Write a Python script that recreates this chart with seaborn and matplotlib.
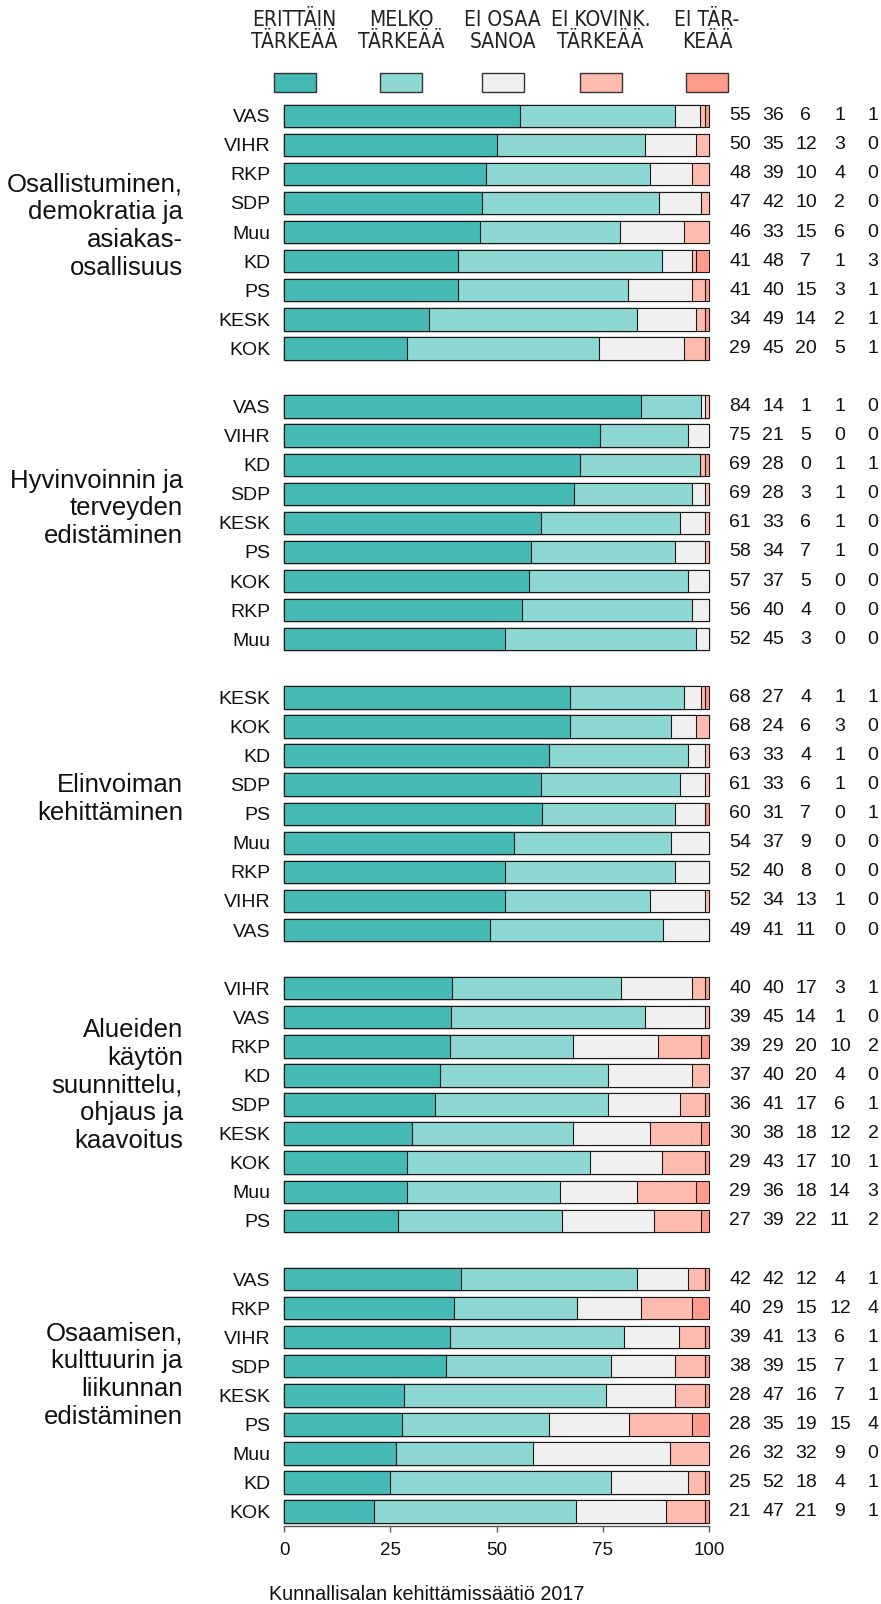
import numpy as np
import pandas as pd
import matplotlib
matplotlib.use('Agg')
import matplotlib.pyplot as plt
from matplotlib.patches import Rectangle
import seaborn as sns

# ---- data
topics = ['Osallistuminen,\ndemokratia ja\nasiakas-\nosallisuus',
          'Hyvinvoinnin ja\nterveyden\nedistäminen',
          'Elinvoiman\nkehittäminen',
          'Alueiden\nkäytön\nsuunnittelu,\nohjaus ja\nkaavoitus',
          'Osaamisen,\nkulttuurin ja\nliikunnan\nedistäminen']

parties = [['VAS', 'VIHR', 'RKP', 'SDP', 'Muu', 'KD', 'PS', 'KESK', 'KOK'],
           ['VAS', 'VIHR', 'KD', 'SDP', 'KESK', 'PS', 'KOK', 'RKP', 'Muu'],
           ['KESK', 'KOK', 'KD', 'SDP', 'PS', 'Muu', 'RKP', 'VIHR', 'VAS'],
           ['VIHR', 'VAS', 'RKP', 'KD', 'SDP', 'KESK', 'KOK', 'Muu', 'PS'],
           ['VAS', 'RKP', 'VIHR', 'SDP', 'KESK', 'PS', 'Muu', 'KD', 'KOK']]

erittain = [[55, 50, 48, 47, 46, 41, 41, 34, 29],
            [84, 75, 69, 69, 61, 58, 57, 56, 52],
            [68, 68, 63, 61, 60, 54, 52, 52, 49],
            [40, 39, 39, 37, 36, 30, 29, 29, 27],
            [42, 40, 39, 38, 28, 28, 26, 25, 21]]
melko = [[36, 35, 39, 42, 33, 48, 40, 49, 45],
         [14, 21, 28, 28, 33, 34, 37, 40, 45],
         [27, 24, 33, 33, 31, 37, 40, 34, 41],
         [40, 45, 29, 40, 41, 38, 43, 36, 39],
         [42, 29, 41, 39, 47, 35, 32, 52, 47]]
ei_osaa = [[6, 12, 10, 10, 15, 7, 15, 14, 20],
           [1, 5, 0, 3, 6, 7, 5, 4, 3],
           [4, 6, 4, 6, 7, 9, 8, 13, 11],
           [17, 14, 20, 20, 17, 18, 17, 18, 22],
           [12, 15, 13, 15, 16, 19, 32, 18, 21]]
ei_kovin = [[1, 3, 4, 2, 6, 1, 3, 2, 5],
            [1, 0, 1, 1, 1, 1, 0, 0, 0],
            [1, 3, 1, 1, 0, 0, 0, 1, 0],
            [3, 1, 10, 4, 6, 12, 10, 14, 11],
            [4, 12, 6, 7, 7, 15, 9, 4, 9]]
ei_tarkea = [[1, 0, 0, 0, 0, 3, 1, 1, 1],
             [0, 0, 1, 0, 0, 0, 0, 0, 0],
             [1, 0, 0, 0, 1, 0, 0, 0, 0],
             [1, 0, 2, 0, 1, 2, 1, 3, 2],
             [1, 4, 1, 1, 1, 4, 0, 1, 1]]

categories = ['ERITTÄIN\nTÄRKEÄÄ', 'MELKO\nTÄRKEÄÄ', 'EI OSAA\nSANOA',
              'EI KOVINK.\nTÄRKEÄÄ', 'EI TÄR-\nKEÄÄ']
colors = ['#45B9B4', '#8ED8D3', '#F0F0F0', '#FFBBAE', '#FF9B8B']

# ---- build table: one row per bar, 10 slots per topic (9 bars + gap)
rows = []
for g in range(len(topics)):
    for i, p in enumerate(parties[g]):
        rows.append({'pos': g * 10 + i, 'party': p,
                     'v0': erittain[g][i], 'v1': melko[g][i], 'v2': ei_osaa[g][i],
                     'v3': ei_kovin[g][i], 'v4': ei_tarkea[g][i]})
df = pd.DataFrame(rows)
vcols = ['v0', 'v1', 'v2', 'v3', 'v4']
tot = df[vcols].sum(axis=1)
for k in range(5):
    df['c%d' % k] = df[vcols[:k + 1]].sum(axis=1) / tot * 100

sns.set_theme(style='white')
plt.rcParams['font.family'] = ['Liberation Sans', 'DejaVu Sans']

W, H = 881, 1604
fig = plt.figure(figsize=(W / 100, H / 100), dpi=100)
ax = fig.add_axes([284 / W, 1 - 1526.2 / H, 425 / W, 1425 / H])

# stacked bars: draw cumulative sums from the back
for k in range(4, -1, -1):
    sns.barplot(data=df, x='c%d' % k, y='pos', orient='y', native_scale=True,
                color=colors[k], saturation=1, width=0.77, errorbar=None,
                edgecolor='#1a1a1a', linewidth=0.8, ax=ax)
for p in ax.patches:
    p.set_clip_on(False)

ax.set_xlim(0, 100)
ax.set_ylim(48.5, -0.5)
ax.set_yticks(df['pos'])
ax.set_yticklabels(df['party'])
ax.set_xticks([0, 25, 50, 75, 100])
ax.set_xticklabels(['0', '25', '50', '75', '100'])
ax.set_xlabel('')
ax.set_ylabel('')
for s in ['top', 'right', 'left']:
    ax.spines[s].set_visible(False)
ax.spines['bottom'].set_bounds(0, 100)
ax.spines['bottom'].set_color('#555555')
ax.spines['bottom'].set_linewidth(1)
ax.tick_params(axis='x', bottom=True, length=4.3, width=1, color='#555555',
               labelsize=13.5, pad=7, labelcolor='#111111')
ax.tick_params(axis='y', left=False, length=0, pad=9.6, labelsize=14,
               labelcolor='#111111')

# counts to the right of each bar
col_x = [107.3, 115.1, 122.8, 130.8, 138.6]
for _, r in df.iterrows():
    for k in range(5):
        ax.text(col_x[k], r['pos'], str(int(r[vcols[k]])), ha='center',
                va='center', fontsize=14, color='#111111', clip_on=False)

# topic titles on the left
title_rows = [3.8, 13.5, 23.5, 33.35, 43.3]
for g, t in enumerate(topics):
    ax.text(-23.8, title_rows[g], t, ha='right', va='center', multialignment='right',
            fontsize=18.5, linespacing=1.2, color='#111111', clip_on=False)

# legend at top
leg_x = [294.6, 401, 502.5, 600.5, 707]
for k in range(5):
    fig.text(leg_x[k] / W, 1 - 31 / H, categories[k], ha='center', va='center',
             fontsize=15, linespacing=1.1, color='#222222',
             family=['Liberation Sans Narrow', 'DejaVu Sans'], stretch='condensed')
    fig.add_artist(Rectangle(((leg_x[k] - 21) / W, 1 - 91.5 / H), 42 / W, 18 / H,
                             transform=fig.transFigure, facecolor=colors[k],
                             edgecolor='#333333', linewidth=1))

fig.text(427 / W, 1 - 1595 / H, 'Kunnallisalan kehittämissäätiö 2017',
         ha='center', va='center', fontsize=14.2, color='#111111')

fig.savefig('out.png', dpi=100)
